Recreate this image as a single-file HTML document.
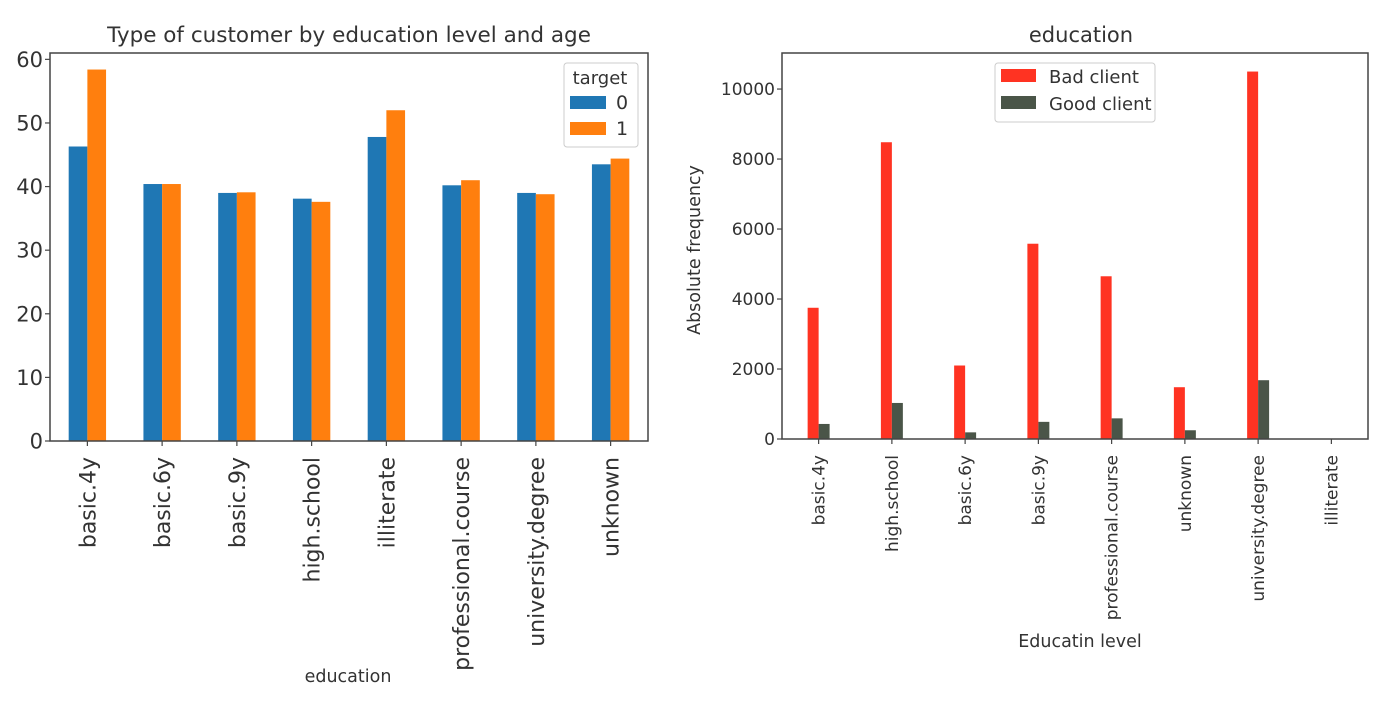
<!DOCTYPE html>
<html><head><meta charset="utf-8"><style>
body{margin:0;background:#fff;}
svg{display:block;font-family:"DejaVu Sans","Liberation Sans",sans-serif;fill:#333;}
</style></head><body>
<svg id="svg" width="1400" height="702" viewBox="0 0 1400 702">
<g id="left"></g>
<g id="right"></g>
</svg>
<script>
const leftCats=["basic.4y","basic.6y","basic.9y","high.school","illiterate","professional.course","university.degree","unknown"];
const leftTarget0=[46.3,40.4,39.0,38.1,47.8,40.2,39.0,43.5];
const leftTarget1=[58.4,40.4,39.1,37.6,52.0,41.0,38.8,44.4];
const leftTicks=[0,10,20,30,40,50,60];
const rightCats=["basic.4y","high.school","basic.6y","basic.9y","professional.course","unknown","university.degree","illiterate"];
const rightBad=[3750,8480,2100,5580,4650,1480,10500,4];
const rightGood=[430,1030,190,490,590,250,1680,4];
const rightTicks=[0,2000,4000,6000,8000,10000];

const NS="http://www.w3.org/2000/svg";
function mk(parent,tag,attrs,text){const e=document.createElementNS(NS,tag);for(const k in attrs)e.setAttribute(k,attrs[k]);if(text!==undefined)e.textContent=text;parent.appendChild(e);return e;}

function drawChart(g,o){
  const {x0,x1,y0,y1,ymax,cats,series,colors,bw,offsets,ticks,fs,tfs}=o;
  const ys=v=>y1-(v/ymax)*(y1-y0);
  const step=(x1-x0)/cats.length;
  const xs=i=>x0+step*(i+0.5);
  series.forEach((s,si)=>{
    s.forEach((v,i)=>{
      const r=mk(g,'rect',{x:xs(i)+offsets[si]*step,y:ys(v),width:bw*step,height:y1-ys(v),fill:colors[si]});
      
      
    });
  });
  const fr=mk(g,'rect',{x:x0,y:y0,width:x1-x0,height:y1-y0,fill:'none',stroke:'#444','stroke-width':1.5});
  
  
  ticks.forEach(t=>{
    mk(g,'line',{x1:x0-5,x2:x0,y1:ys(t),y2:ys(t),stroke:'#444','stroke-width':1.2});
    const tx=mk(g,'text',{x:x0-7,y:ys(t)+tfs*0.36,'text-anchor':'end','font-size':tfs},String(t));
    
    
  });
  cats.forEach((c,i)=>{
    mk(g,'line',{x1:xs(i),x2:xs(i),y1:y1,y2:y1+5,stroke:'#444','stroke-width':1.2});
    const tx=mk(g,'text',{transform:`translate(${xs(i)+fs*0.36},${y1+16}) rotate(-90)`,'text-anchor':'end','font-size':fs},c);
    
    
  });
}

const L=document.getElementById('left');
drawChart(L,{x0:50,x1:648,y0:53,y1:441,ymax:61,cats:leftCats,series:[leftTarget0,leftTarget1],colors:['#1f77b4','#ff7f0e'],names:['target0','target1'],bw:0.25,offsets:[-0.25,0],ticks:leftTicks,fs:22,tfs:21});
const R=document.getElementById('right');
drawChart(R,{x0:782,x1:1368,y0:53,y1:439,ymax:11030,cats:rightCats,series:[rightBad,rightGood],colors:['#ff3322','#4a5548'],names:['bad','good'],bw:0.15,offsets:[-0.15,0],ticks:rightTicks,fs:17,tfs:17});

const svg=document.getElementById('svg');
function t(x,y,s,fs,name,extra){const e=mk(svg,'text',Object.assign({x:x,y:y,'font-size':fs,'text-anchor':'middle'},extra||{}),s);return e;}
t(349,42,'Type of customer by education level and age',21.5,'left-title');
t(348,682,'education',17.5,'left-x-axis-title');
t(1081,42,'education',21,'right-title');
t(1080,647,'Educatin level',17.5,'right-x-axis-title');
t(0,0,'Absolute frequency',17.5,'right-y-axis-title',{transform:'translate(700,250) rotate(-90)'});
const lg=mk(svg,'g',{});


mk(lg,'rect',{x:564,y:63,width:74,height:84,fill:'#fff',stroke:'#ccc',rx:3});
mk(lg,'text',{x:600,y:84,'font-size':18,'text-anchor':'middle'},'target');
mk(lg,'rect',{x:570,y:96,width:36,height:13,fill:'#1f77b4'});
mk(lg,'text',{x:616,y:109,'font-size':19},'0');
mk(lg,'rect',{x:570,y:122,width:36,height:13,fill:'#ff7f0e'});
mk(lg,'text',{x:616,y:135,'font-size':19},'1');
const rg=mk(svg,'g',{});


mk(rg,'rect',{x:995,y:63,width:160,height:59,fill:'#fff',stroke:'#ccc',rx:3});
mk(rg,'rect',{x:1001,y:69,width:35,height:13,fill:'#ff3322'});
mk(rg,'rect',{x:1001,y:96,width:35,height:13,fill:'#4a5548'});
mk(rg,'text',{x:1049,y:83,'font-size':18},'Bad client');
mk(rg,'text',{x:1049,y:110,'font-size':18},'Good client');
</script>
</body></html>
